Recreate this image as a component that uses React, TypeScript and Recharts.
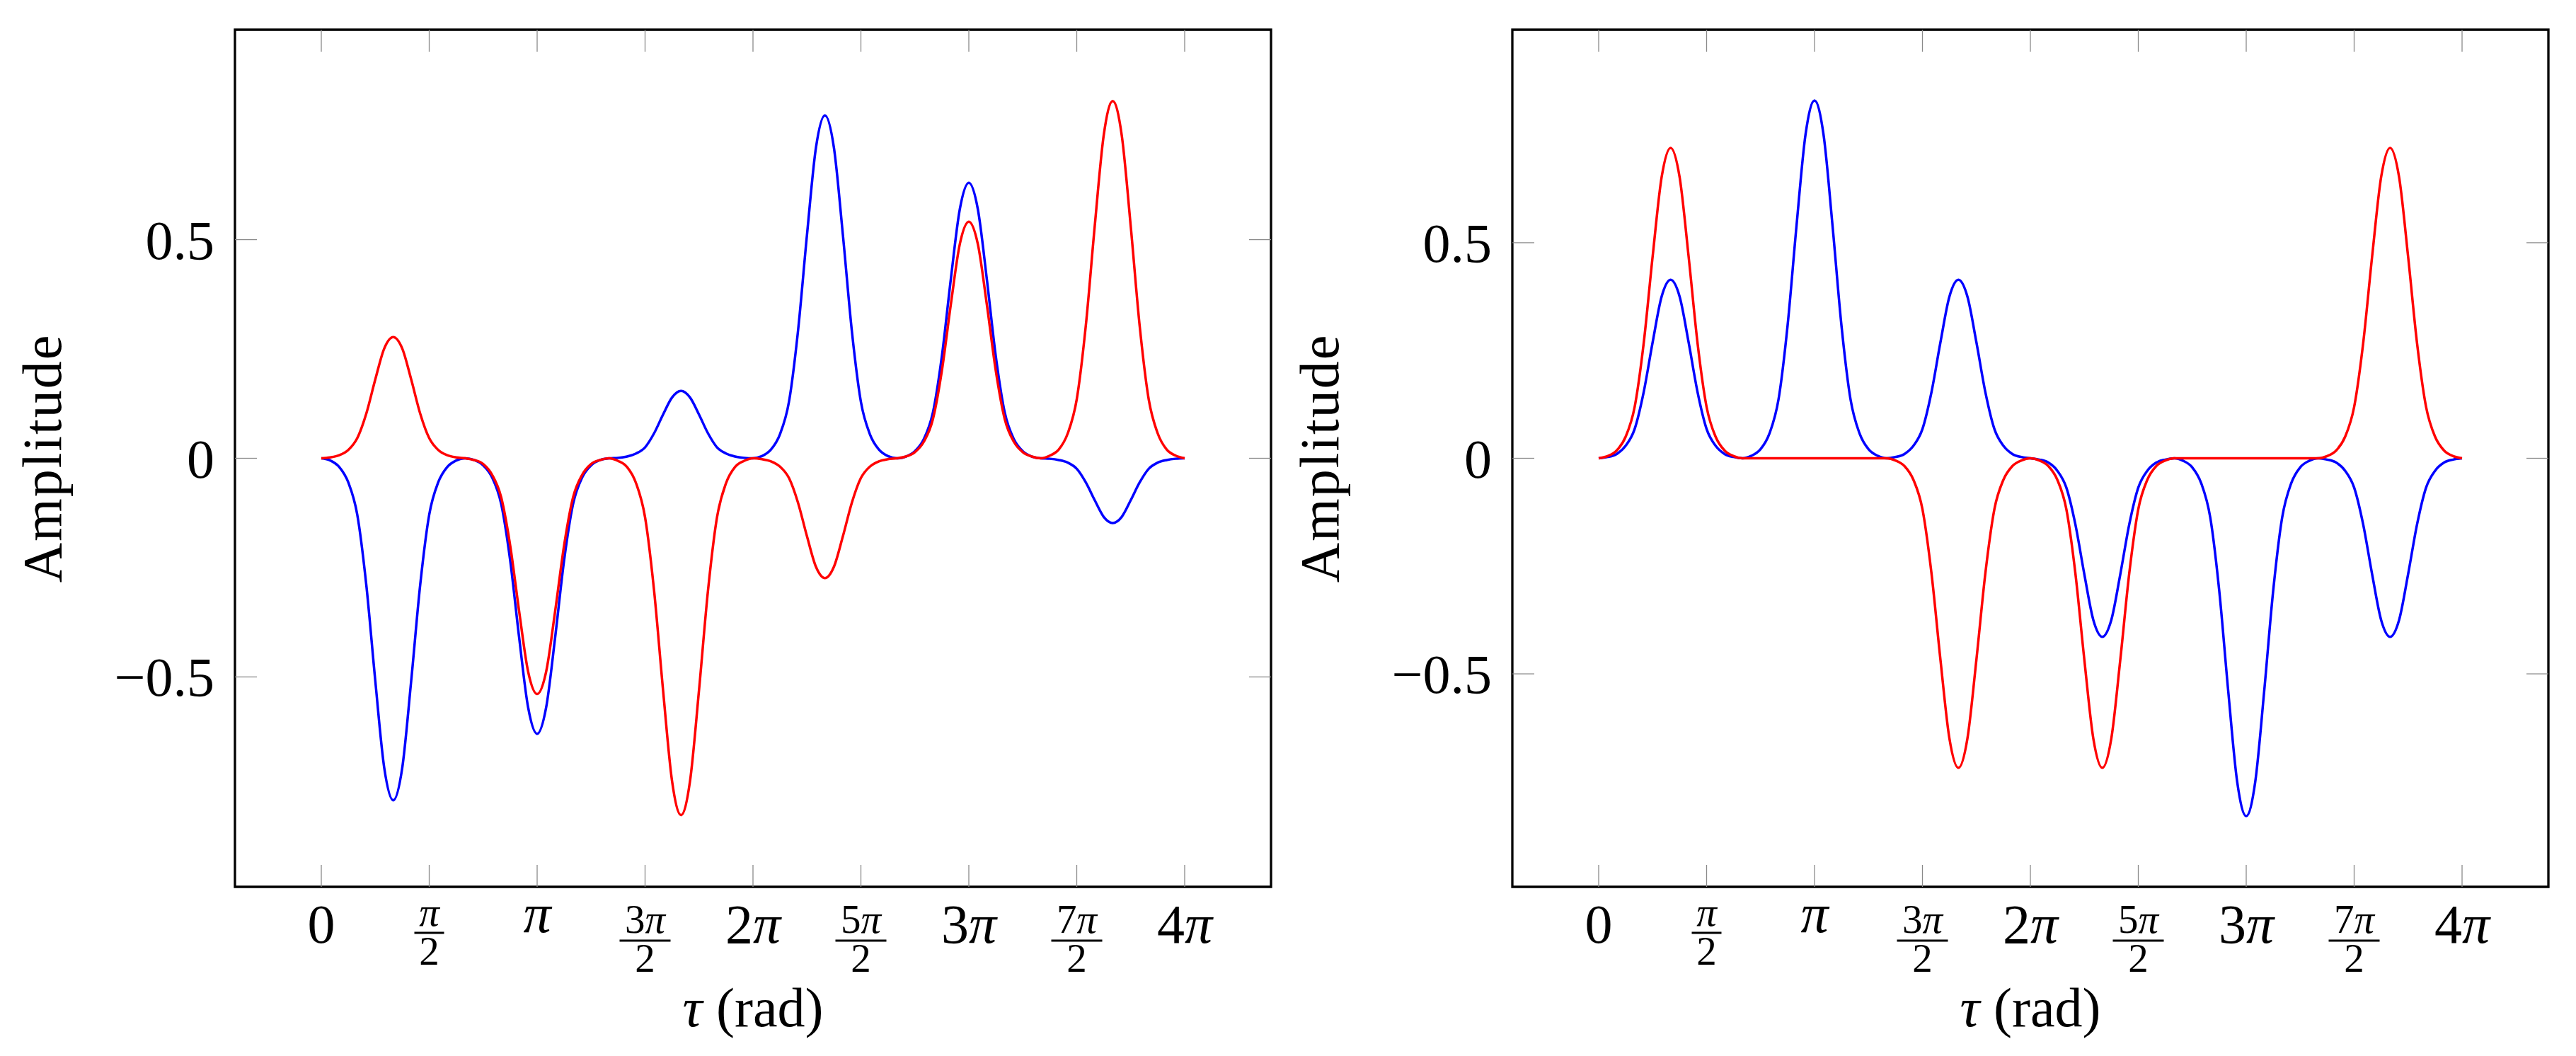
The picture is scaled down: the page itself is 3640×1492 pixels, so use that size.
import { Line, LineChart, ReferenceArea, XAxis, YAxis } from "recharts";

// samples every pi/24 from 0 to 4pi (97 points)
const leftRed = [
  0,
  0.002, 0.007, 0.019, 0.046, 0.102, 0.18, 0.251, 0.277, 0.251, 0.18, 0.102, 0.046, 0.019, 0.007, 0.002, 0,
  -0.004, -0.013, -0.038, -0.089, -0.199, -0.35, -0.488, -0.539, -0.488, -0.35, -0.199, -0.089, -0.038, -0.013, -0.004, 0,
  -0.006, -0.02, -0.057, -0.135, -0.302, -0.53, -0.738, -0.816, -0.738, -0.53, -0.302, -0.135, -0.057, -0.02, -0.006, 0,
  -0.002, -0.007, -0.019, -0.045, -0.101, -0.178, -0.248, -0.274, -0.248, -0.178, -0.101, -0.045, -0.019, -0.007, -0.002, 0,
  0.004, 0.014, 0.038, 0.089, 0.2, 0.352, 0.49, 0.541, 0.49, 0.352, 0.2, 0.089, 0.038, 0.014, 0.004, 0,
  0.006, 0.02, 0.057, 0.135, 0.302, 0.531, 0.739, 0.817, 0.739, 0.531, 0.302, 0.135, 0.057, 0.02, 0.006, 0,
];

const leftBlue = [
  0,
  -0.005, -0.02, -0.055, -0.129, -0.289, -0.508, -0.708, -0.782, -0.708, -0.508, -0.289, -0.129, -0.055, -0.02, -0.005, 0,
  -0.004, -0.016, -0.044, -0.104, -0.233, -0.41, -0.57, -0.63, -0.57, -0.41, -0.233, -0.104, -0.044, -0.016, -0.004, 0,
  0.001, 0.004, 0.011, 0.025, 0.057, 0.1, 0.139, 0.154, 0.139, 0.1, 0.057, 0.025, 0.011, 0.004, 0.001, 0,
  0.005, 0.02, 0.055, 0.129, 0.29, 0.51, 0.71, 0.784, 0.71, 0.51, 0.29, 0.129, 0.055, 0.02, 0.005, 0,
  0.004, 0.016, 0.044, 0.104, 0.233, 0.41, 0.57, 0.63, 0.57, 0.41, 0.233, 0.104, 0.044, 0.016, 0.004, 0,
  -0.001, -0.004, -0.01, -0.024, -0.055, -0.096, -0.134, -0.148, -0.134, -0.096, -0.055, -0.024, -0.01, -0.004, -0.001, 0,
];

const rightRed = [
  0,
  0.005, 0.018, 0.05, 0.119, 0.266, 0.468, 0.652, 0.72, 0.652, 0.468, 0.266, 0.119, 0.05, 0.018, 0.005, 0,
  0, 0, 0, 0, 0, 0, 0, 0, 0, 0, 0, 0, 0, 0, 0, 0,
  -0.005, -0.018, -0.05, -0.118, -0.266, -0.467, -0.65, -0.718, -0.65, -0.467, -0.266, -0.118, -0.05, -0.018, -0.005, 0,
  -0.005, -0.018, -0.05, -0.118, -0.266, -0.467, -0.65, -0.718, -0.65, -0.467, -0.266, -0.118, -0.05, -0.018, -0.005, 0,
  0, 0, 0, 0, 0, 0, 0, 0, 0, 0, 0, 0, 0, 0, 0, 0,
  0.005, 0.018, 0.05, 0.119, 0.266, 0.468, 0.652, 0.72, 0.652, 0.468, 0.266, 0.119, 0.05, 0.018, 0.005, 0,
];

const rightBlue = [
  0,
  0.003, 0.01, 0.029, 0.068, 0.153, 0.269, 0.375, 0.414, 0.375, 0.269, 0.153, 0.068, 0.029, 0.01, 0.003, 0,
  0.006, 0.021, 0.058, 0.137, 0.307, 0.54, 0.751, 0.83, 0.751, 0.54, 0.307, 0.137, 0.058, 0.021, 0.006, 0,
  0.003, 0.01, 0.029, 0.068, 0.153, 0.269, 0.375, 0.414, 0.375, 0.269, 0.153, 0.068, 0.029, 0.01, 0.003, 0,
  -0.003, -0.01, -0.029, -0.068, -0.153, -0.269, -0.375, -0.414, -0.375, -0.269, -0.153, -0.068, -0.029, -0.01, -0.003, 0,
  -0.006, -0.021, -0.058, -0.137, -0.307, -0.54, -0.751, -0.83, -0.751, -0.54, -0.307, -0.137, -0.058, -0.021, -0.006, 0,
  -0.003, -0.01, -0.029, -0.068, -0.153, -0.269, -0.375, -0.414, -0.375, -0.269, -0.153, -0.068, -0.029, -0.01, -0.003, 0,
];

// x is in steps of pi/24
const xTickValues = [0, 12, 24, 36, 48, 60, 72, 84, 96];
const xTickLabels = ["0", "π/2", "π", "3π/2", "2π", "5π/2", "3π", "7π/2", "4π"];
const yTickValues = [-0.5, 0, 0.5];
const yTickLabels = ["−0.5", "0", "0.5"];

const X_DOMAIN: [number, number] = [-9.6, 105.6];
const FONT = "'Liberation Serif', 'DejaVu Serif', serif";
const CHART_W = 1820;
const CHART_H = 1492;
const Y_AXIS_W = 100;
const X_AXIS_H = 100;
const TICK_LEN = 31;
const TICK_COLOR = "#8a8a8a";

type Frame = { left: number; right: number; top: number; bottom: number };

const leftFrame: Frame = { left: 332, right: 1796, top: 42, bottom: 1253 };
const rightFrame: Frame = { left: 317, right: 1781, top: 42, bottom: 1253 };

// pi and tau are set in math italic, digits upright
const mathText = (s: string) =>
  s
    .split(/(π|τ)/)
    .filter(Boolean)
    .map((part, i) =>
      part === "π" || part === "τ" ? (
        <tspan key={i} fontStyle="italic">
          {part}
        </tspan>
      ) : (
        <tspan key={i}>{part}</tspan>
      )
    );

const makeXTick = (frame: Frame) => (props: any) => {
  const { x, payload } = props;
  const label = xTickLabels[xTickValues.indexOf(payload.value)] ?? "";
  const b = frame.bottom;
  let text;
  if (label.includes("/")) {
    const [num, den] = label.split("/");
    const short = num === "π";
    const numY = b + (short ? 55 : 65);
    const barY = b + (short ? 65 : 76);
    const denY = b + (short ? 110 : 120);
    const half = short ? 21 : 36;
    text = (
      <g>
        <text x={x} y={numY} textAnchor="middle" fontSize={57} fontFamily={FONT} fill="#000">
          {mathText(num)}
        </text>
        <line x1={x - half} x2={x + half} y1={barY} y2={barY} stroke="#000" strokeWidth={3} />
        <text x={x} y={denY} textAnchor="middle" fontSize={57} fontFamily={FONT} fill="#000">
          {den}
        </text>
      </g>
    );
  } else {
    text = (
      <text x={x} y={b + (label === "π" ? 64 : 79)} textAnchor="middle" fontSize={78} fontFamily={FONT} fill="#000">
        {mathText(label)}
      </text>
    );
  }
  return (
    <g>
      <line x1={x} x2={x} y1={frame.bottom} y2={frame.bottom - TICK_LEN} stroke={TICK_COLOR} strokeWidth={1.3} />
      <line x1={x} x2={x} y1={frame.top} y2={frame.top + TICK_LEN} stroke={TICK_COLOR} strokeWidth={1.3} />
      {text}
    </g>
  );
};

const makeYTick = (frame: Frame) => (props: any) => {
  const { y, payload } = props;
  const label = yTickLabels[yTickValues.indexOf(payload.value)] ?? "";
  return (
    <g>
      <line x1={frame.left} x2={frame.left + TICK_LEN} y1={y} y2={y} stroke={TICK_COLOR} strokeWidth={1.3} />
      <line x1={frame.right} x2={frame.right - TICK_LEN} y1={y} y2={y} stroke={TICK_COLOR} strokeWidth={1.3} />
      <text x={frame.left - 29} y={y + 27} textAnchor="end" fontSize={78} fontFamily={FONT} fill="#000">
        {label}
      </text>
    </g>
  );
};

const Panel = ({
  red,
  blue,
  frame,
  yMax,
}: {
  red: number[];
  blue: number[];
  frame: Frame;
  yMax: number;
}) => {
  const data = red.map((r, k) => ({ k, red: r, blue: blue[k] }));
  const midX = (frame.left + frame.right) / 2;
  const midY = (frame.top + frame.bottom) / 2;
  const ampX = frame.left - 246;

  return (
    <LineChart
      width={CHART_W}
      height={CHART_H}
      data={data}
      margin={{
        top: frame.top,
        right: CHART_W - frame.right,
        bottom: CHART_H - frame.bottom - X_AXIS_H,
        left: frame.left - Y_AXIS_W,
      }}
    >
      <XAxis
        type="number"
        dataKey="k"
        domain={X_DOMAIN}
        ticks={xTickValues}
        interval={0}
        allowDataOverflow
        axisLine={false}
        tickLine={false}
        height={X_AXIS_H}
        tick={makeXTick(frame)}
        label={{
          content: () => (
            <text x={midX} y={1450} textAnchor="middle" fontSize={78} fontFamily={FONT} fill="#000">
              {mathText("τ (rad)")}
            </text>
          ),
        }}
      />
      <YAxis
        type="number"
        domain={[-yMax, yMax]}
        ticks={yTickValues}
        interval={0}
        allowDataOverflow
        axisLine={false}
        tickLine={false}
        width={Y_AXIS_W}
        tick={makeYTick(frame)}
        label={{
          content: () => (
            <text
              x={ampX}
              y={midY}
              transform={`rotate(-90 ${ampX} ${midY})`}
              textAnchor="middle"
              fontSize={78}
              letterSpacing={2}
              fontFamily={FONT}
              fill="#000"
            >
              Amplitude
            </text>
          ),
        }}
      />
      <ReferenceArea
        x1={X_DOMAIN[0]}
        x2={X_DOMAIN[1]}
        y1={-yMax}
        y2={yMax}
        fill="none"
        stroke="#000"
        strokeWidth={3.3}
        ifOverflow="visible"
      />
      <Line
        type="monotone"
        dataKey="blue"
        stroke="#0000ff"
        strokeWidth={3.5}
        dot={false}
        activeDot={false}
        isAnimationActive={false}
      />
      <Line
        type="monotone"
        dataKey="red"
        stroke="#ff0000"
        strokeWidth={3.5}
        dot={false}
        activeDot={false}
        isAnimationActive={false}
      />
    </LineChart>
  );
};

export default function App() {
  return (
    <div
      style={{
        position: "absolute",
        left: 0,
        top: 0,
        width: 3640,
        height: 1492,
        background: "#fff",
        display: "flex",
      }}
    >
      <Panel red={leftRed} blue={leftBlue} frame={leftFrame} yMax={0.98} />
      <Panel red={rightRed} blue={rightBlue} frame={rightFrame} yMax={0.994} />
    </div>
  );
}
